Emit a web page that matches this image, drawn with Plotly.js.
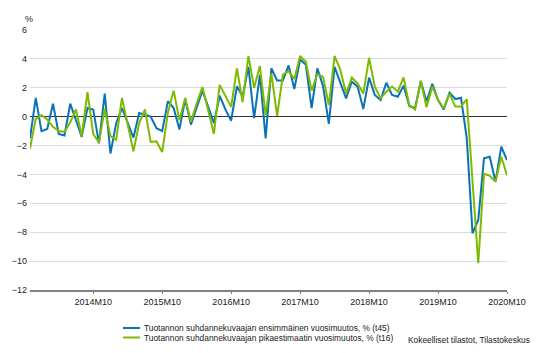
<!DOCTYPE html>
<html>
<head>
<meta charset="utf-8">
<script src="https://cdn.plot.ly/plotly-3.0.1.min.js"></script>
<style>
html,body{margin:0;padding:0;background:#fff;}
#chart{width:540px;height:353px;}
</style>
</head>
<body>
<div id="chart"></div>
<script>
var months = [
"2013M11","2013M12",
"2014M01","2014M02","2014M03","2014M04","2014M05","2014M06","2014M07","2014M08","2014M09","2014M10","2014M11","2014M12",
"2015M01","2015M02","2015M03","2015M04","2015M05","2015M06","2015M07","2015M08","2015M09","2015M10","2015M11","2015M12",
"2016M01","2016M02","2016M03","2016M04","2016M05","2016M06","2016M07","2016M08","2016M09","2016M10","2016M11","2016M12",
"2017M01","2017M02","2017M03","2017M04","2017M05","2017M06","2017M07","2017M08","2017M09","2017M10","2017M11","2017M12",
"2018M01","2018M02","2018M03","2018M04","2018M05","2018M06","2018M07","2018M08","2018M09","2018M10","2018M11","2018M12",
"2019M01","2019M02","2019M03","2019M04","2019M05","2019M06","2019M07","2019M08","2019M09","2019M10","2019M11","2019M12",
"2020M01","2020M02","2020M03","2020M04","2020M05","2020M06","2020M07","2020M08","2020M09","2020M10"
];

var firstEstimate = [
-1.5, 1.3, -1.0, -0.85, 0.9, -1.2, -1.3, 0.9, -0.25, -1.4,
0.6, 0.5, -1.85, 1.6, -2.55, -0.45, 0.6, -0.5, -1.45, 0.25,
0.1, 0.0, -0.8, -1.0, 1.08, 0.6, -0.88, 1.2, -0.55, 0.6,
1.8, 0.7, -0.45, 1.45, 0.5, -0.28, 2.1, 1.4, 3.45, -0.1,
2.9, -1.5, 3.35, 2.5, 2.5, 3.55, 1.92, 3.95, 3.6, 0.6,
3.35, 2.1, -0.5, 3.45, 2.3, 1.27, 2.42, 2.08, 0.53, 2.7,
1.5, 1.15, 2.35, 1.5, 1.38, 2.15, 0.74, 0.58, 2.47, 1.05,
2.27, 1.15, 0.5, 1.66, 1.22, 1.31, -1.5, -8.07, -7.15, -2.88,
-2.77, -4.5, -2.08, -3.0
];

var flashEstimate = [
-2.2, -0.15, 0.1, -0.2, -0.7, -1.0, -1.05, -0.4, 0.5, -1.35,
1.7, -1.2, -1.8, 0.55, -1.35, -1.6, 1.3, -0.5, -2.4, -0.45,
0.5, -1.75, -1.7, -2.45, 0.3, 1.8, -0.25, 1.3, -0.35, 0.9,
2.05, 0.45, -1.2, 2.2, 1.45, 0.68, 3.35, 1.0, 4.2, 2.0,
3.5, 0.1, 3.0, 0.05, 2.9, 3.15, 2.6, 4.2, 3.8, 1.8,
2.95, 2.75, 0.8, 4.2, 3.25, 1.6, 2.7, 2.3, 1.6, 4.07,
2.08, 1.27, 1.73, 2.08, 1.73, 2.72, 0.8, 0.5, 2.47, 0.65,
2.08, 1.15, 0.58, 1.6, 0.7, 0.7, 1.22, -4.3, -10.15, -3.95,
-4.1, -4.5, -2.77, -4.05
];

var xTickLabels = ["2014M10","2015M10","2016M10","2017M10","2018M10","2019M10","2020M10"];
var yTickValues = [-12, -10, -8, -6, -4, -2, 0, 2, 4, 6];

var seriesNames = [
"Tuotannon suhdannekuvaajan ensimmäinen vuosimuutos, % (t45)",
"Tuotannon suhdannekuvaajan pikaestimaatin vuosimuutos, % (t16)"
];
var seriesColors = ["#0a72b5", "#7dba00"];
var sourceText = "Kokeelliset tilastot, Tilastokeskus";

var FONT = "Liberation Sans, Arial, sans-serif";

var traces = [
  {x: months, y: firstEstimate, type: "scatter", mode: "lines", name: seriesNames[0],
   line: {color: seriesColors[0], width: 2}, showlegend: false, hoverinfo: "x+y"},
  {x: months, y: flashEstimate, type: "scatter", mode: "lines", name: seriesNames[1],
   line: {color: seriesColors[1], width: 2}, showlegend: false, hoverinfo: "x+y"}
];

// legend drawn manually for compact spacing
var legX0 = 93/477, legX1 = 110/477, legTextX = 112/477;
var legY = [-38/260, -47.5/260];

var layout = {
  width: 540, height: 353,
  margin: {l: 30, r: 33, t: 30, b: 63},
  paper_bgcolor: "#fff", plot_bgcolor: "#fff",
  font: {family: FONT, size: 9, color: "#222"},
  xaxis: {
    type: "category",
    range: [0, months.length - 1],
    tickmode: "array",
    tickvals: xTickLabels,
    ticktext: xTickLabels,
    showgrid: false,
    showline: true, linecolor: "#808080", linewidth: 2,
    ticks: "outside", ticklen: 2, tickcolor: "#808080", tickwidth: 1,
    tickfont: {family: FONT, size: 9, color: "#222"},
    zeroline: false, fixedrange: true
  },
  yaxis: {
    range: [-12, 6],
    tickmode: "array",
    tickvals: yTickValues,
    showgrid: true, gridcolor: "#dcdcdc", gridwidth: 1,
    zeroline: true, zerolinecolor: "#333", zerolinewidth: 1.5,
    showline: false, ticks: "",
    ticklabelstandoff: 2,
    tickfont: {family: FONT, size: 9, color: "#222"},
    fixedrange: true
  },
  shapes: [
    {type: "line", xref: "paper", yref: "paper", x0: legX0, x1: legX1, y0: legY[0], y1: legY[0],
     line: {color: seriesColors[0], width: 2}},
    {type: "line", xref: "paper", yref: "paper", x0: legX0, x1: legX1, y0: legY[1], y1: legY[1],
     line: {color: seriesColors[1], width: 2}}
  ],
  annotations: [
    {text: "%", xref: "paper", yref: "paper", x: 0, y: 1, xanchor: "center", yanchor: "bottom",
     yshift: 4, xshift: -1, showarrow: false, font: {family: FONT, size: 9, color: "#222"}},
    {text: seriesNames[0], xref: "paper", yref: "paper", x: legTextX, y: legY[0],
     xanchor: "left", yanchor: "middle", showarrow: false, font: {family: FONT, size: 8.4, color: "#222"}},
    {text: seriesNames[1], xref: "paper", yref: "paper", x: legTextX, y: legY[1],
     xanchor: "left", yanchor: "middle", showarrow: false, font: {family: FONT, size: 8.4, color: "#222"}},
    {text: sourceText, xref: "paper", yref: "paper", x: 502/477, y: -49.5/260,
     xanchor: "right", yanchor: "middle", showarrow: false, font: {family: FONT, size: 8.4, color: "#222"}}
  ]
};

Plotly.newPlot("chart", traces, layout, {displayModeBar: false, staticPlot: true});
</script>
</body>
</html>
